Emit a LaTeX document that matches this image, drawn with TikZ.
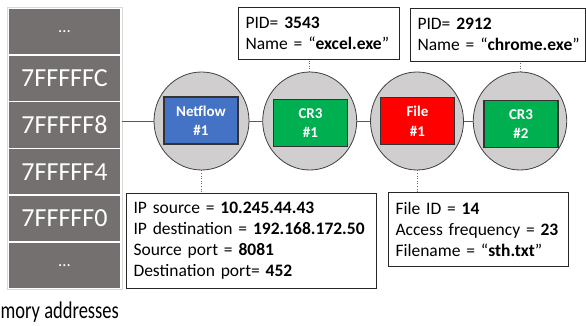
\documentclass[tikz,border=0pt]{standalone}
\usepackage{graphicx}
\usepackage{fontspec}
\setmainfont{Carlito}
\usetikzlibrary{shapes.geometric}
\definecolor{memgray}{HTML}{757070}
\definecolor{circgray}{HTML}{D0CECE}
\definecolor{nfblue}{HTML}{4472C4}
\definecolor{crgreen}{HTML}{00B050}
\definecolor{filered}{HTML}{FF0000}
\begin{document}
\begin{tikzpicture}[x=1pt,y=-1pt,
  memcell/.style={rectangle, fill=memgray, draw=white, line width=1.6pt, minimum width=113pt, minimum height=46.8pt, inner sep=0pt, text=white, font=\fontsize{26}{28}\selectfont},
  obj/.style={ellipse, fill=circgray, draw=black!75, line width=0.8pt, minimum width=95pt, minimum height=98pt, inner sep=0pt},
  tag/.style={rectangle, draw=black!80, line width=1.2pt, minimum width=74pt, minimum height=47pt, inner sep=0pt, text=white, align=center, font=\fontsize{15}{19.5}\selectfont\bfseries},
  infobox/.style={rectangle, draw=black!85, line width=0.9pt, align=left, inner xsep=7.5pt, inner ysep=0pt, font=\fontsize{17.5}{21}\selectfont},
  link/.style={draw=black!65, line width=0.8pt},
  dotlink/.style={draw=black!60, line width=0.6pt, dotted}
]
\useasboundingbox (0,0) rectangle (586,326);
% memory column
\node[memcell, font=\fontsize{17}{19}\selectfont] (m0) at (64.5,31.4) {…};
\node[memcell] (mC) at (64.5,78.2) {7FFFFFC};
\node[memcell] (m8) at (64.5,125) {7FFFFF8};
\node[memcell] (m4) at (64.5,171.8) {7FFFFF4};
\node[memcell] (mF0) at (64.5,218.6) {7FFFFF0};
\node[memcell, font=\fontsize{17}{19}\selectfont] (m5) at (64.5,265.4) {…};
\draw[black!15, line width=0.6pt] (m0.north west) rectangle (m5.south east);
\node[anchor=base west, inner sep=0pt, font=\fontsize{24}{28}\selectfont] (lbl) at (0.5,318.5) {\scalebox{0.77}[1]{mory addresses}};
% objects
\node[obj] (c1) at (201.5,121) {};
\node[obj, minimum width=94pt] (c2) at (309.7,121) {};
\node[obj, minimum width=93pt] (c3) at (417,121) {};
\node[obj, minimum width=93.5pt] (c4) at (520,121) {};
\node[tag, fill=nfblue] (t1) at (201,120.5) {Netflow\\\#1};
\node[tag, fill=crgreen] (t2) at (310.5,123) {CR3\\\#1};
\node[tag, fill=filered] (t3) at (417.5,121) {File\\\#1};
\node[tag, fill=crgreen] (t4) at (521,124) {CR3\\\#2};
\draw[link] (c1.west -| m8.east) -- (c1.west);
\draw[link] (c1.east) -- (c2.west);
\draw[link] (c2.east) -- (c3.west);
\draw[link] (c3.east) -- (c4.west);
% info boxes
\node[infobox, minimum width=161pt, minimum height=52pt, text width=146pt] (p1) at (318.5,33) {PID= \textbf{3543}\\\mbox{Name = “\textbf{excel.exe}”}};
\node[infobox, minimum width=175pt, minimum height=53pt, text width=160pt] (p2) at (497.5,34.5) {PID= \textbf{2912}\\\mbox{Name = “\textbf{chrome.exe}”}};
\node[infobox, minimum width=250pt, minimum height=95pt, text width=235pt] (ip) at (251,240.5) {IP source = \textbf{10.245.44.43}\\\mbox{IP destination = \textbf{192.168.172.50}}\\Source port = \textbf{8081}\\Destination port= \textbf{452}};
\node[infobox, minimum width=180pt, minimum height=74pt, text width=165pt] (fb) at (478,229) {File ID = \textbf{14}\\\mbox{Access frequency = \textbf{23}}\\Filename = “\textbf{sth.txt}”};
\draw[dotlink] (c1.south) -- (c1.south |- ip.north);
\draw[dotlink] (c3.south) -- (c3.south |- fb.north);
\draw[dotlink] (c2.north) -- (c2.north |- p1.south);
\draw[dotlink] (c4.north) -- (c4.north |- p2.south);
\end{tikzpicture}
\end{document}
